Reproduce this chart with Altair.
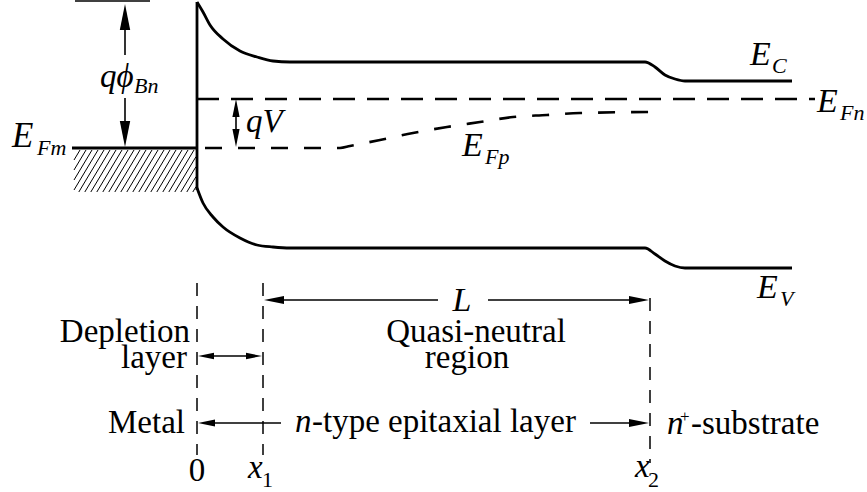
import altair as alt
import numpy as np
import pandas as pd

W, H = 867, 492
FONT = "Liberation Serif"

# ---- band edges and quasi-Fermi levels (x along the device, y = energy, downward) ----
ec_x = [197, 203, 210, 223, 240, 257, 273, 290, 645, 655, 665, 675, 685, 792]
ec_y = [2, 12, 25, 39, 51, 57, 61, 62, 62, 67, 75, 79, 81, 81]
ev_x = [197, 203, 213, 223, 240, 257, 273, 290, 645, 655, 665, 675, 685, 792]
ev_y = [188, 203, 217, 227, 238, 245, 247, 248, 248, 254, 261, 266, 268, 268]
efn_x = [197, 815]
efn_y = [99, 99]
efp_x = [205, 340, 350, 380, 413, 447, 480, 513, 547, 580, 650]
efp_y = [148, 148, 146, 140, 133, 127, 122, 117, 115, 113, 112]

# ---- reference positions ----
x_metal, x_1, x_2 = 197, 263, 650
e_fm = 148
barrier_top = 1
hatch_box = (74, 196, 150, 192)

# ---- straight segments: (x, y, x2, y2) ----
thick_segs = [
    (72, e_fm, x_metal, e_fm),          # metal Fermi level
    (x_metal, 2, x_metal, 190),         # metal / semiconductor interface
]
thin_segs = [
    (75, barrier_top, 150, barrier_top),  # barrier top reference
    (125, 20, 125, 55),                   # q phi_Bn shaft
    (125, 98, 125, 135),
    (236, 112, 236, 135),                 # qV shaft
    (278, 300, 438, 300),                 # L shaft
    (488, 300, 632, 300),
    (212, 356, 248, 356),                 # depletion width
    (212, 423, 281, 423),                 # metal arrow
    (590, 423, 632, 423),                 # epitaxial arrow
]
dashed_segs = [
    (x_metal, 283, x_metal, 455),
    (x_1, 283, x_1, 455),
    (x_2, 298, x_2, 463),
]

# ---- arrowheads: tip x, tip y, direction angle (0 = up), length ----
head_x = [125, 125, 236, 236, 264, 649, 198, 262, 198, 649]
head_y = [4, 147, 99, 147, 300, 300, 356, 356, 423, 423]
head_angle = [0, 180, 0, 180, 270, 90, 270, 90, 270, 90]
head_len = [26, 26, 18, 18, 20, 20, 16, 16, 17, 20]

# ---- labels ----
ital_x = [100, 134, 12, 37, 246, 750, 772, 817, 840, 462, 485, 757, 780, 295, 667, 248, 635]
ital_y = [87, 93, 147, 155, 132, 65, 73, 112, 120, 156, 164, 298, 306, 432, 434, 478, 477]
ital_t = ["qϕ", "Bn", "E", "Fm", "qV", "E", "C", "E", "Fn", "E", "Fp", "E", "V", "n", "n", "x", "x"]
ital_s = [33, 22, 35, 22, 33, 34, 22, 34, 22, 34, 22, 34, 22, 33, 33, 33, 33]

rom_left_x = [312, 680, 691, 262, 648]
rom_left_y = [432, 422, 434, 487, 487]
rom_left_t = ["-type epitaxial layer", "+", "-substrate", "1", "2"]
rom_left_s = [33, 17, 33, 22, 22]

rom_right_x = [190, 187, 185]
rom_right_y = [342, 368, 433]
rom_right_t = ["Depletion", "layer", "Metal"]

rom_center_x = [476, 467, 197]
rom_center_y = [342, 368, 481]
rom_center_t = ["Quasi-neutral", "region", "0"]

L_label = ("L", 462, 311)

# ---- scales: one unit per pixel, y running downward ----
xs = alt.Scale(domain=[0, W], nice=False, zero=False)
ys = alt.Scale(domain=[H, 0], nice=False, zero=False)
X = lambda f: alt.X(f, type="quantitative", scale=xs, axis=None)
Y = lambda f: alt.Y(f, type="quantitative", scale=ys, axis=None)


def curve(xv, yv, name):
    return pd.DataFrame({"x": xv, "y": yv, "order": range(len(xv)), "name": name})


solid_curves = pd.concat([curve(ec_x, ec_y, "Ec"), curve(ev_x, ev_y, "Ev")])
efn_df = curve(efn_x, efn_y, "EFn")
efp_df = curve(efp_x, efp_y, "EFp")


def segs(rows):
    return pd.DataFrame(rows, columns=["x", "y", "x2", "y2"])


# hatching of the metal, clipped to its box
hx0, hx1, hy0, hy1 = hatch_box
hh = hy1 - hy0
run = 0.6 * hh
hatch_rows = []
for c in np.arange(hx0 - run, hx1, 6.0):
    t0 = max(0.0, (hx0 - c) / run)
    t1 = min(1.0, (hx1 - c) / run)
    if t1 > t0:
        hatch_rows.append((c + t0 * run, hy1 - t0 * hh, c + t1 * run, hy1 - t1 * hh))

lines_solid = alt.Chart(solid_curves).mark_line(
    color="black", strokeWidth=2.8, interpolate="monotone"
).encode(x=X("x"), y=Y("y"), detail="name:N", order="order:Q")

line_efn = alt.Chart(efn_df).mark_line(
    color="black", strokeWidth=2.6, strokeDash=[22, 12]
).encode(x=X("x"), y=Y("y"), order="order:Q")

line_efp = alt.Chart(efp_df).mark_line(
    color="black", strokeWidth=2.6, strokeDash=[17, 16], interpolate="monotone"
).encode(x=X("x"), y=Y("y"), order="order:Q")


def rule_layer(df, **kw):
    return alt.Chart(df).mark_rule(color="black", **kw).encode(
        x=X("x"), y=Y("y"), x2="x2:Q", y2="y2:Q"
    )


thick = rule_layer(segs(thick_segs), strokeWidth=2.8)
thin = rule_layer(segs(thin_segs), strokeWidth=1.6)
dashed = rule_layer(segs(dashed_segs), strokeWidth=1.5, strokeDash=[13, 10])
hatch = rule_layer(segs(hatch_rows), strokeWidth=1.0)

heads_df = pd.DataFrame({
    "x": head_x, "y": head_y, "angle": head_angle,
    "size": [v * v for v in head_len],
})
heads = alt.Chart(heads_df).mark_point(
    shape="M0,0L0.4,2L-0.4,2Z", filled=True, color="black", opacity=1, strokeWidth=0
).encode(
    x=X("x"), y=Y("y"),
    angle=alt.Angle("angle:Q", scale=None),
    size=alt.Size("size:Q", scale=None),
)


def text_layer(xv, yv, tv, sv, align, style="normal"):
    df = pd.DataFrame({"x": xv, "y": yv, "t": tv, "s": sv})
    return alt.Chart(df).mark_text(
        font=FONT, fontStyle=style, align=align, baseline="alphabetic", color="black"
    ).encode(x=X("x"), y=Y("y"), text="t:N", size=alt.Size("s:Q", scale=None))


t_ital = text_layer(ital_x, ital_y, ital_t, ital_s, "left", "italic")
t_left = text_layer(rom_left_x, rom_left_y, rom_left_t, rom_left_s, "left")
t_right = text_layer(rom_right_x, rom_right_y, rom_right_t, [33] * 3, "right")
t_center = text_layer(rom_center_x, rom_center_y, rom_center_t, [33] * 3, "center")
t_L = text_layer([L_label[1]], [L_label[2]], [L_label[0]], [34], "center", "italic")

chart = alt.layer(
    hatch, lines_solid, line_efn, line_efp, thick, thin, dashed, heads,
    t_ital, t_left, t_right, t_center, t_L,
).properties(
    width=W, height=H, padding=0, autosize=alt.AutoSizeParams(type="none"),
    background="white",
).configure_view(stroke=None)

chart.save("out.html", embed_options={"renderer": "svg", "actions": False})
